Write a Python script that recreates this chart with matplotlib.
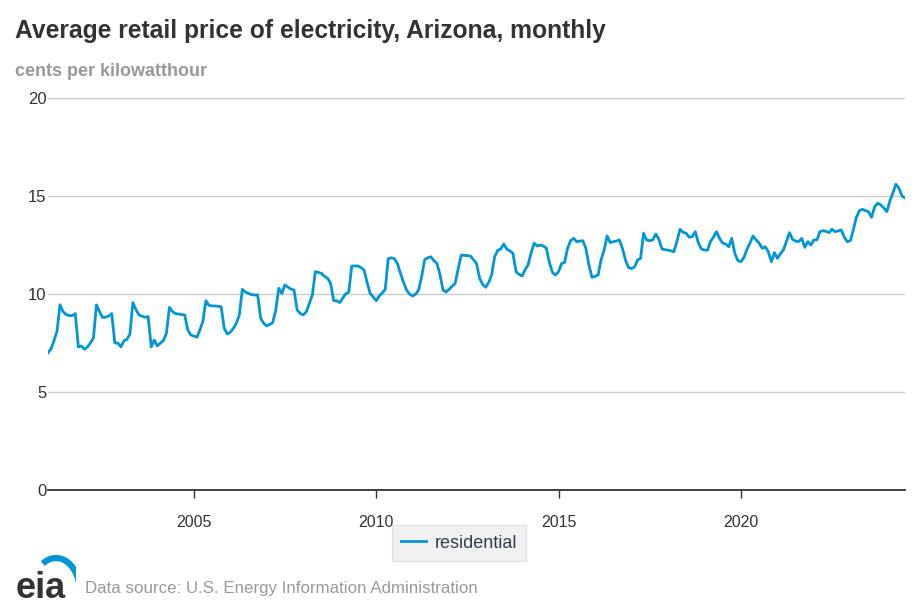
import pandas as pd
import matplotlib
matplotlib.use('Agg')
import matplotlib.pyplot as plt
from matplotlib.patches import Arc

plt.rcParams['font.family'] = ['Liberation Sans', 'DejaVu Sans']

# cents per kilowatthour, residential, monthly from Jan 2001
p2001 = [7.0, 7.2, 7.6, 8.1, 9.45, 9.1, 8.95, 8.9, 8.9, 9.0, 7.3, 7.35]
p2002 = [7.18, 7.3, 7.5, 7.75, 9.44, 9.1, 8.8, 8.82, 8.88, 9.0, 7.5, 7.5]
p2003 = [7.3, 7.62, 7.68, 7.95, 9.56, 9.2, 8.93, 8.87, 8.81, 8.85, 7.3, 7.65]
p2004 = [7.35, 7.5, 7.62, 8.0, 9.32, 9.1, 9.0, 8.98, 8.95, 8.93, 8.16, 7.91]
p2005 = [7.85, 7.8, 8.15, 8.6, 9.66, 9.42, 9.39, 9.39, 9.37, 9.35, 8.25, 7.96]
p2006 = [8.05, 8.25, 8.5, 8.93, 10.24, 10.1, 10.03, 9.97, 9.95, 9.95, 8.76, 8.5]
p2007 = [8.37, 8.45, 8.54, 9.18, 10.29, 10.03, 10.46, 10.35, 10.25, 10.2, 9.18, 9.01]
p2008 = [8.93, 9.1, 9.5, 9.95, 11.14, 11.1, 11.05, 10.9, 10.8, 10.54, 9.66, 9.66]
p2009 = [9.56, 9.8, 10.0, 10.1, 11.43, 11.43, 11.43, 11.35, 11.22, 10.6, 10.03, 9.85]
p2010 = [9.66, 9.9, 10.05, 10.24, 11.8, 11.85, 11.8, 11.55, 11.05, 10.6, 10.2, 10.0]
p2011 = [9.9, 10.0, 10.2, 10.9, 11.75, 11.85, 11.9, 11.7, 11.56, 11.0, 10.2, 10.1]
p2012 = [10.24, 10.4, 10.54, 11.3, 11.99, 11.97, 11.96, 11.94, 11.75, 11.56, 10.8, 10.5]
p2013 = [10.34, 10.6, 10.97, 11.9, 12.22, 12.3, 12.55, 12.28, 12.2, 12.07, 11.14, 11.0]
p2014 = [10.92, 11.25, 11.48, 12.1, 12.59, 12.45, 12.5, 12.45, 12.33, 11.6, 11.1, 10.97]
p2015 = [11.14, 11.56, 11.6, 12.33, 12.72, 12.84, 12.67, 12.7, 12.72, 12.33, 11.48, 10.85]
p2016 = [10.9, 10.97, 11.73, 12.24, 12.96, 12.62, 12.67, 12.7, 12.76, 12.33, 11.73, 11.35]
p2017 = [11.3, 11.39, 11.73, 11.82, 13.1, 12.75, 12.72, 12.76, 13.06, 12.8, 12.3, 12.26]
p2018 = [12.24, 12.2, 12.16, 12.7, 13.3, 13.15, 13.1, 12.9, 12.93, 13.18, 12.6, 12.3]
p2019 = [12.24, 12.24, 12.67, 12.9, 13.18, 12.84, 12.6, 12.55, 12.41, 12.84, 12.07, 11.7]
p2020 = [11.65, 11.87, 12.28, 12.6, 12.96, 12.76, 12.6, 12.33, 12.41, 12.16, 11.65, 12.11]
p2021 = [11.82, 12.07, 12.24, 12.7, 13.13, 12.79, 12.7, 12.67, 12.84, 12.38, 12.67, 12.5]
p2022 = [12.76, 12.76, 13.18, 13.23, 13.2, 13.13, 13.3, 13.18, 13.22, 13.27, 12.9, 12.67]
p2023 = [12.72, 13.3, 13.9, 14.25, 14.32, 14.25, 14.2, 13.91, 14.45, 14.63, 14.55, 14.4]
p2024 = [14.2, 14.75, 15.15, 15.6, 15.4, 15.0, 14.9]

residential = (p2001 + p2002 + p2003 + p2004 + p2005 + p2006 + p2007 + p2008
               + p2009 + p2010 + p2011 + p2012 + p2013 + p2014 + p2015 + p2016
               + p2017 + p2018 + p2019 + p2020 + p2021 + p2022 + p2023 + p2024)
dates = pd.date_range('2001-01-01', periods=len(residential), freq='MS')

year_ticks = ['2005', '2010', '2015', '2020']
y_ticks = [0, 5, 10, 15, 20]

fig = plt.figure(figsize=(9.2, 6.13), dpi=100)
ax = fig.add_axes([48/920, 1 - 490/613, (905 - 48)/920, (490 - 98)/613])

ax.plot(dates, residential, color='#0096d7', lw=2.0, label='residential',
        solid_joinstyle='round')

ax.set_ylim(0, 20)
ax.set_yticks(y_ticks)
ax.set_xlim(dates[0], dates[-1])
ax.set_xticks(pd.to_datetime([y + '-01-01' for y in year_ticks]))
ax.set_xticklabels(year_ticks)

ax.grid(axis='y', color='#cccccc', lw=1)
ax.set_axisbelow(True)
for s in ['top', 'right', 'left']:
    ax.spines[s].set_visible(False)
ax.spines['bottom'].set_color('#333333')
ax.spines['bottom'].set_linewidth(1.3)
ax.tick_params(axis='y', length=0, pad=1, labelsize=12, labelcolor='#333333')
ax.tick_params(axis='x', length=6, width=1, color='#333333', pad=12,
               labelsize=11.5, labelcolor='#333333')

leg = ax.legend(loc='center', bbox_to_anchor=(459/920, 1 - 543/613),
                bbox_transform=fig.transFigure, fontsize=13, frameon=True,
                fancybox=False, handlelength=1.4, handletextpad=0.5,
                borderpad=0.5)
leg.get_frame().set_facecolor('#eeeeee')
leg.get_frame().set_edgecolor('#dddddd')
for t in leg.get_texts():
    t.set_color('#333f4f')

fig.text(15/920, 1 - 31/613, 'Average retail price of electricity, Arizona, monthly',
         fontsize=17.7, fontweight='bold', color='#333333', va='center')
fig.text(15/920, 1 - 72/613, 'cents per kilowatthour', fontsize=13,
         fontweight='bold', color='#999999', va='center')
fig.text(85/920, 1 - 589/613, 'Data source: U.S. Energy Information Administration',
         fontsize=12.2, color='#999999', va='center')

# eia logo
lax = fig.add_axes([12/920, 1 - 608/613, 64/920, 55/613])
lax.set_xlim(0, 64)
lax.set_ylim(0, 55)
lax.axis('off')
lax.text(4, 10, 'eia', fontsize=26, fontweight='bold', color='#333333',
         va='baseline', ha='left')
lax.add_patch(Arc((44, 16), 48, 68, theta1=10, theta2=115, color='#0096d7', lw=4.5))

fig.savefig('out.png', dpi=100)
